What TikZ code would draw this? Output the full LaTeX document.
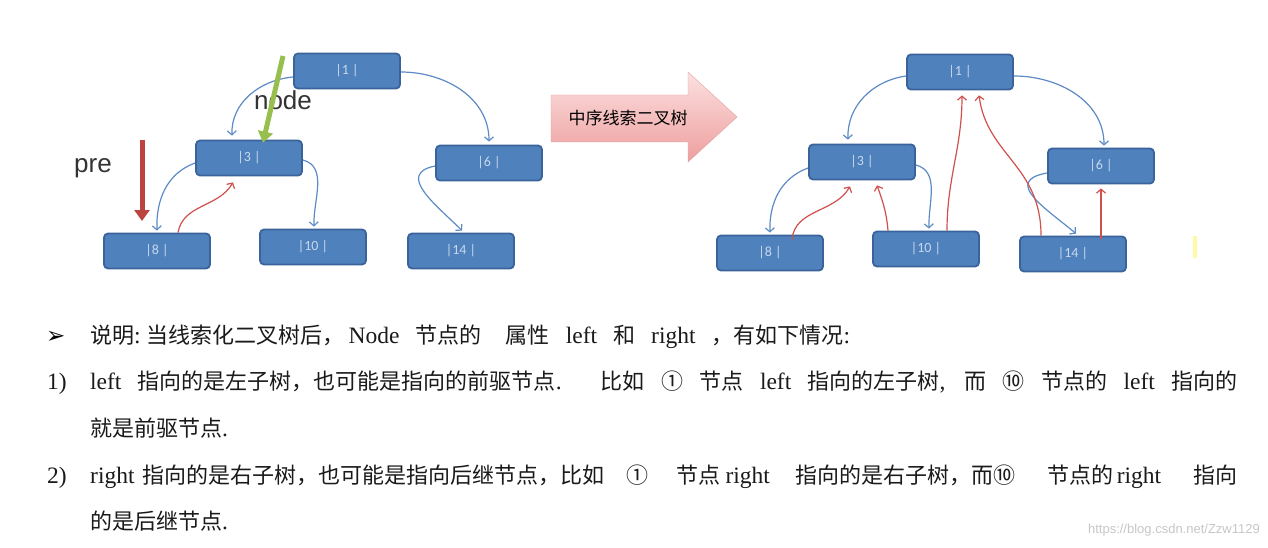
\documentclass[tikz,border=0pt]{standalone}
\usepackage{fontspec}
\setmainfont{Liberation Serif}
\newfontfamily\cjk{Noto Sans CJK SC}
\newfontfamily\dejavu{DejaVu Sans}
\newfontfamily\carl{Carlito}
\newfontfamily\lsans{Liberation Sans}
\usetikzlibrary{arrows.meta,calc}
\newcommand\zh[1]{{\cjk\fontsize{22}{26}\selectfont #1}}
\newcommand\sg[1]{\hspace{#1pt plus 1fil}}
\definecolor{boxfill}{HTML}{4F81BD}
\definecolor{boxdraw}{HTML}{3A639B}
\definecolor{boxtext}{HTML}{C9D8EC}
\definecolor{conblue}{HTML}{5D8BC6}
\definecolor{conred}{HTML}{D0504E}
\definecolor{greenar}{HTML}{98BE4E}
\definecolor{redar}{HTML}{BB4441}
\definecolor{txt}{HTML}{1A1A1A}
\definecolor{pinktop}{HTML}{FCE0E0}
\definecolor{pinkbot}{HTML}{EE9E9E}
\definecolor{pinkdraw}{HTML}{E3A3A3}
\tikzset{
  treebox/.style={rectangle, rounded corners=4pt, minimum width=106pt, minimum height=35pt,
    fill=boxfill, draw=boxdraw, line width=1.8pt, text=boxtext, font=\carl\fontsize{14}{16}\selectfont, inner sep=0pt},
  bl/.style={draw=conblue, line width=1.2pt, -{Straight Barb[length=4pt,width=9pt]}},
  rd/.style={draw=conred, line width=1.2pt, -{Straight Barb[length=4pt,width=9pt]}},
  bigar/.style={line width=5pt, -{Triangle[length=11pt,width=15pt]}},
  bodytext/.style={anchor=base west, inner sep=0pt, text=txt, font=\fontsize{23.5}{28}\selectfont},
}
\begin{document}
\begin{tikzpicture}[x=1pt,y=1pt]
\useasboundingbox (0,0) rectangle (1268,-548);
\fill[white] (0,0) rectangle (1268,-548);
% left tree
\node[treebox] (L1) at (347,-71) {|1 |};
\node[treebox] (L3) at (249,-158) {|3 |};
\node[treebox] (L6) at (489,-163) {|6 |};
\node[treebox] (L8) at (157,-251) {|8 |};
\node[treebox] (L10) at (313,-247) {|10 |};
\node[treebox] (L14) at (461,-251) {|14 |};
\draw[bl] ([yshift=-6pt]L1.west) to[out=185,in=92] ([xshift=-17pt,yshift=4pt]L3.north);
\draw[bl] ([yshift=-1pt]L1.east) to[out=0,in=90] ([yshift=3pt]L6.north);
\draw[bl] ([yshift=-5pt]L3.west) to[out=200,in=92] ([yshift=2pt]L8.north);
\draw[bl] ([yshift=-2pt]L3.east) to[out=-15,in=92] ([xshift=1pt,yshift=2pt]L10.north);
\draw[bl] ([yshift=-3pt]L6.west) .. controls +(-40,-8) and +(-25,25) .. ([xshift=1pt,yshift=2pt]L14.north);
\draw[rd] ([xshift=21pt]L8.north) to[out=80,in=240] ([xshift=-16pt,yshift=-6pt]L3.south);
% labels and big arrows
\node[font=\lsans\fontsize{26}{30}\selectfont, text=black!80] (nodelbl) at (283,-100) {node};
\node[font=\lsans\fontsize{26}{30}\selectfont, text=black!80] (prelbl) at (93,-168) {pre};
\coordinate (gs) at (283,-56);
\draw[bigar, draw=greenar, fill=greenar] (gs) -- ([xshift=14pt,yshift=-3pt]L3.north);
\coordinate (rs) at (142,-140);
\coordinate (re) at (142,-221);
\draw[bigar, draw=redar, fill=redar] (rs) -- (re);
% block arrow
\shade[top color=pinktop, bottom color=pinkbot, draw=pinkdraw] (551,-95) -- (688,-95) -- (688,-72) -- (737,-117) -- (688,-162) -- (688,-142) -- (551,-142) -- cycle;
\node[font=\cjk\fontsize{17}{20}\selectfont, text=black] (arrlbl) at (628,-118) {中序线索二叉树};
% right tree
\node[treebox] (R1) at (960,-72) {|1 |};
\node[treebox] (R3) at (862,-162) {|3 |};
\node[treebox] (R6) at (1101,-166) {|6 |};
\node[treebox] (R8) at (770,-253) {|8 |};
\node[treebox] (R10) at (926,-249) {|10 |};
\node[treebox] (R14) at (1073,-254) {|14 |};
\draw[bl] ([yshift=-4pt]R1.west) to[out=188,in=92] ([xshift=-14pt,yshift=4pt]R3.north);
\draw[bl] ([yshift=-4pt]R1.east) to[out=0,in=90] ([xshift=3pt,yshift=2pt]R6.north);
\draw[bl] ([yshift=-6pt]R3.west) to[out=200,in=92] ([yshift=2pt]R8.north);
\draw[bl] ([yshift=-3pt]R3.east) to[out=-15,in=92] ([xshift=3pt,yshift=2pt]R10.north);
\draw[bl] ([yshift=-7pt]R6.west) .. controls +(-45,-8) and +(-30,25) .. ([xshift=3pt,yshift=2pt]R14.north);
\draw[rd] ([xshift=22pt,yshift=-5pt]R8.north) to[out=85,in=240] ([xshift=-12pt,yshift=-6pt]R3.south);
\draw[rd] ([xshift=-38pt]R10.north) to[out=95,in=-70] ([xshift=15pt,yshift=-5pt]R3.south);
\draw[rd] ([xshift=21pt]R10.north) to[out=90,in=-90] ([xshift=2pt,yshift=-5pt]R1.south);
\draw[rd] ([xshift=-32pt]R14.north) .. controls +(0,70) and +(8,-60) .. ([xshift=19pt,yshift=-5pt]R1.south);
\draw[rd] ([xshift=28pt,yshift=-3pt]R14.north) -- ([xshift=0pt,yshift=-4pt]R6.south);
\fill[yellow!35!white] (1193,-236) rectangle (1197,-258);
% text
\node[anchor=base west, inner sep=0pt, font=\dejavu\fontsize{23}{26}\selectfont] (bul) at (46,-343) {➢};
\node[bodytext] (t1) at (90,-343) {\makebox[760pt][s]{\zh{说明}:\hspace{6pt}\zh{当线索化二叉树后，}\hspace{4pt}Node\sg{6}\zh{节点的}\sg{14}\zh{属性}\sg{6}left\sg{6}\zh{和}\sg{6}right\sg{6}\zh{，有如下情况}:}};
\node[bodytext] (n1) at (47,-389) {1)};
\node[bodytext] (t2) at (90,-389) {\makebox[1147pt][s]{left \zh{指向的是左子树，也可能是指向的前驱节点}. \zh{比如} \zh{①} \zh{节点} left \zh{指向的左子树}, \zh{而} \zh{⑩} \zh{节点的} left \zh{指向的}}};
\node[bodytext] (t3) at (90,-436) {\zh{就是前驱节点}.};
\node[bodytext] (n2) at (47,-483) {2)};
\node[bodytext] (t4) at (90,-483) {\makebox[1147pt][s]{right\hspace{8pt}\zh{指向的是右子树，也可能是指向后继节点，比如}\sg{10}\zh{①}\sg{16}\zh{节点}\hspace{5pt}right\sg{14}\zh{指向的是右子树，而⑩}\sg{20}\zh{节点的}\hspace{3pt}right\sg{20}\zh{指向}}};
\node[bodytext] (t5) at (90,-529) {\zh{的是后继节点}.};
\node[anchor=base east, inner sep=0pt, font=\lsans\fontsize{13}{15}\selectfont, text=black!22] (wm) at (1260,-533) {https://blog.csdn.net/Zzw1129};
\end{tikzpicture}
\end{document}
